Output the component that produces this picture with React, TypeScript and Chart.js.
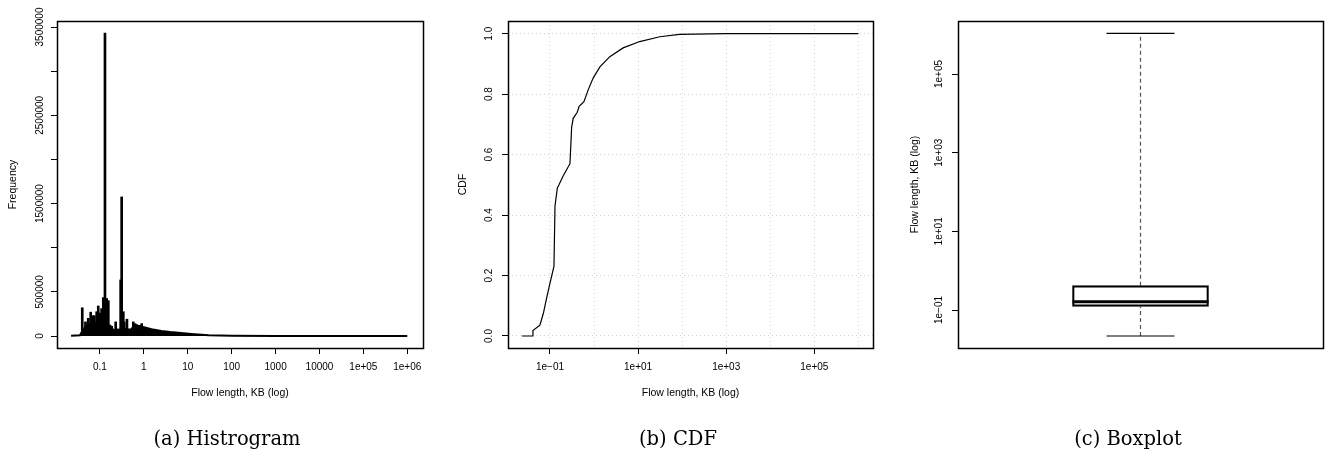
import React, { useEffect, useRef } from 'react';
import { Chart, registerables } from 'chart.js';

Chart.register(...registerables);

// ---------- (a) Histogram data ----------
const histSpikeKB = [0.0395, 0.0468, 0.054, 0.0614, 0.0682, 0.0742, 0.0841, 0.0914, 0.1, 0.109, 0.119, 0.13, 0.142, 0.155, 0.169, 0.185, 0.201, 0.228, 0.253, 0.296, 0.312, 0.34, 0.358, 0.412, 0.482, 0.574, 0.627, 0.685, 0.773, 0.891, 1.06];
const histSpikeFreq = [320000, 160000, 200000, 270000, 230000, 230000, 275000, 340000, 260000, 310000, 435000, 3430000, 425000, 400000, 125000, 110000, 80000, 160000, 80000, 635000, 1575000, 275000, 160000, 190000, 60000, 160000, 140000, 130000, 120000, 140000, 85000];
const histEnvKB = [0.022, 0.035, 0.04, 0.05, 0.06, 0.08, 0.1, 0.12, 0.16, 0.2, 0.25, 0.3, 0.4, 0.5, 0.6, 0.8, 1, 1.5, 2.5, 4, 7, 12, 30, 100, 1000, 10000, 1000000];
const histEnvFreq = [3000, 8000, 60000, 120000, 140000, 150000, 150000, 140000, 90000, 60000, 60000, 80000, 80000, 70000, 110000, 110000, 100000, 76000, 57000, 45000, 34000, 23000, 8000, 3000, 1000, 500, 200];
const histXTicks = [0.1, 1, 10, 100, 1000, 10000, 1e5, 1e6];
const histXLabels = ['0.1', '1', '10', '100', '1000', '10000', '1e+05', '1e+06'];
const histYTicks = [0, 500000, 1000000, 1500000, 2000000, 2500000, 3000000, 3500000];
const histYLabels = ['0', '500000', '', '1500000', '', '2500000', '', '3500000'];

// ---------- (b) CDF data ----------
const cdfKB = [0.023, 0.041, 0.041, 0.059, 0.071, 0.084, 0.1, 0.123, 0.13, 0.147, 0.16, 0.2, 0.284, 0.31, 0.337, 0.415, 0.46, 0.59, 0.74, 0.96, 1.36, 2.28, 4.57, 10.9, 31, 87, 1000, 1000000];
const cdfValue = [0, 0, 0.018, 0.036, 0.076, 0.126, 0.175, 0.23, 0.43, 0.49, 0.5, 0.53, 0.57, 0.69, 0.72, 0.74, 0.76, 0.775, 0.815, 0.854, 0.89, 0.924, 0.953, 0.974, 0.99, 0.998, 1.0, 1.0];
const cdfXTicks = [0.1, 1, 10, 100, 1000, 10000, 1e5, 1e6];
const cdfXLabels = ['1e\u221201', '', '1e+01', '', '1e+03', '', '1e+05', ''];
const cdfYTicks = [0, 0.2, 0.4, 0.6, 0.8, 1.0];
const cdfYLabels = ['0.0', '0.2', '0.4', '0.6', '0.8', '1.0'];

// ---------- (c) Boxplot data ----------
const boxMin = 0.0218;
const boxQ1 = 0.124;
const boxMedian = 0.163;
const boxQ3 = 0.415;
const boxMax = 1.08e6;
const boxYTicks = [0.1, 10, 1000, 1e5];
const boxYLabels = ['1e\u221201', '1e+01', '1e+03', '1e+05'];

const FONT = '"Liberation Sans", Arial, Helvetica, sans-serif';
Chart.defaults.font.family = FONT;
Chart.defaults.color = '#000';

const frame = {
  id: 'rframe',
  afterDatasetsDraw(chart: any) {
    const { ctx, chartArea } = chart;
    const { left, top, right, bottom } = chartArea;
    ctx.save();
    ctx.strokeStyle = '#000';
    ctx.lineWidth = 1.5;
    ctx.strokeRect(left + 0.5, top + 0.5, right - left, bottom - top);
    ctx.restore();
  },
};

function useChart(ref: any, make: () => any) {
  useEffect(() => {
    const chart = new Chart(ref.current, make());
    return () => chart.destroy();
  }, []);
}

const tickGrid = { display: true, drawOnChartArea: false, drawTicks: true, tickLength: 6, tickColor: '#000', tickWidth: 1, offset: false };

function Histogram() {
  const ref = useRef<HTMLCanvasElement>(null);
  useChart(ref, () => ({
    type: 'bar',
    data: {
      datasets: [
        {
          type: 'bar',
          data: histSpikeKB.map((x, i) => ({ x, y: histSpikeFreq[i] })),
          backgroundColor: '#000',
          borderWidth: 0,
          barThickness: 2,
        },
        {
          type: 'line',
          data: histEnvKB.map((x, i) => ({ x, y: histEnvFreq[i] })),
          borderColor: '#000',
          backgroundColor: '#000',
          borderWidth: 2,
          fill: 'origin',
          pointRadius: 0,
          tension: 0,
        },
      ],
    },
    options: {
      responsive: false,
      animation: false,
      layout: { autoPadding: false, padding: { top: 21, right: 22, left: 0, bottom: 0 } },
      plugins: { legend: { display: false }, tooltip: { enabled: false } },
      scales: {
        x: {
          type: 'logarithmic',
          min: 0.0105,
          max: 2.28e6,
          offset: false,
          afterBuildTicks: (s: any) => { s.ticks = histXTicks.map((v) => ({ value: v })); },
          afterFit: (s: any) => { s.height = 104; },
          grid: tickGrid,
          border: { display: false },
          ticks: { autoSkip: false, maxRotation: 0, minRotation: 0, padding: 7, color: '#000', font: { size: 10 }, callback: (_v: any, i: number) => histXLabels[i] },
          title: { display: true, text: 'Flow length, KB (log)', color: '#000', font: { size: 10.5 }, padding: { top: 0, bottom: 52.4 } },
        },
        y: {
          type: 'linear',
          min: -135900,
          max: 3568000,
          afterBuildTicks: (s: any) => { s.ticks = histYTicks.map((v) => ({ value: v })); },
          afterFit: (s: any) => { s.width = 57; },
          grid: tickGrid,
          border: { display: false },
          ticks: { autoSkip: false, minRotation: 90, maxRotation: 90, crossAlign: 'center', padding: -8.45, color: '#000', font: { size: 10 }, callback: (_v: any, i: number) => histYLabels[i] },
          title: { display: true, text: 'Frequency', color: '#000', font: { size: 10.5 }, padding: { top: 6.4, bottom: 0 } },
        },
      },
    },
    plugins: [frame],
  }));
  return <canvas ref={ref} width={445} height={452} style={{ position: 'absolute', left: 0, top: 0, width: 445, height: 452 }} />;
}

function CDF() {
  const ref = useRef<HTMLCanvasElement>(null);
  const dottedGrid = (tickFn: (i: number) => string) => ({
    display: true,
    drawOnChartArea: true,
    drawTicks: true,
    tickLength: 6,
    color: '#d3d3d3',
    borderDash: [1, 3],
    tickColor: (c: any) => tickFn(c.index),
    tickWidth: 1,
    tickBorderDash: [],
    offset: false,
  });
  useChart(ref, () => ({
    type: 'line',
    data: {
      datasets: [
        {
          data: cdfKB.map((x, i) => ({ x, y: cdfValue[i] })),
          borderColor: '#000',
          borderWidth: 1.2,
          pointRadius: 0,
          tension: 0,
          fill: false,
        },
      ],
    },
    options: {
      responsive: false,
      animation: false,
      layout: { autoPadding: false, padding: { top: 21, right: 17, left: 0, bottom: 0 } },
      plugins: { legend: { display: false }, tooltip: { enabled: false } },
      scales: {
        x: {
          type: 'logarithmic',
          min: 0.01114,
          max: 2.15e6,
          offset: false,
          afterBuildTicks: (s: any) => { s.ticks = cdfXTicks.map((v) => ({ value: v })); },
          afterFit: (s: any) => { s.height = 104; },
          grid: dottedGrid((i) => (cdfXLabels[i] ? '#000' : 'rgba(0,0,0,0)')),
          border: { display: false, dash: [1, 3] },
          ticks: { autoSkip: false, maxRotation: 0, minRotation: 0, padding: 7, color: '#000', font: { size: 10 }, callback: (_v: any, i: number) => cdfXLabels[i] },
          title: { display: true, text: 'Flow length, KB (log)', color: '#000', font: { size: 10.5 }, padding: { top: 0, bottom: 52.4 } },
        },
        y: {
          type: 'linear',
          min: -0.0397,
          max: 1.042,
          afterBuildTicks: (s: any) => { s.ticks = cdfYTicks.map((v) => ({ value: v })); },
          afterFit: (s: any) => { s.width = 63; },
          grid: dottedGrid(() => '#000'),
          border: { display: false, dash: [1, 3] },
          ticks: { autoSkip: false, minRotation: 90, maxRotation: 90, crossAlign: 'center', padding: 6.05, color: '#000', font: { size: 10 }, callback: (_v: any, i: number) => cdfYLabels[i] },
          title: { display: true, text: 'CDF', color: '#000', font: { size: 10.5 }, padding: { top: 12.2, bottom: 0 } },
        },
      },
    },
    plugins: [frame],
  }));
  return <canvas ref={ref} width={445} height={452} style={{ position: 'absolute', left: 445, top: 0, width: 445, height: 452 }} />;
}

function Boxplot() {
  const ref = useRef<HTMLCanvasElement>(null);
  useChart(ref, () => ({
    type: 'bar',
    data: {
      datasets: [
        {
          type: 'bar',
          data: [{ x: 0, y: [boxQ1, boxQ3] }],
          backgroundColor: 'rgba(255,255,255,0)',
          borderColor: '#000',
          borderWidth: 1.5,
          borderSkipped: false,
          barThickness: 136,
        },
        {
          type: 'line',
          data: [{ x: 0, y: boxMedian }],
          showLine: false,
          pointStyle: 'line',
          pointRadius: 68,
          pointBorderWidth: 3,
          pointBorderColor: '#000',
        },
        {
          type: 'line',
          data: [{ x: 0, y: boxMin }, { x: 0, y: boxMax }],
          showLine: false,
          pointStyle: 'line',
          pointRadius: 34,
          pointBorderWidth: 1.2,
          pointBorderColor: '#000',
        },
        {
          type: 'line',
          data: [{ x: 0, y: boxQ3 }, { x: 0, y: boxMax }],
          borderColor: '#555',
          borderWidth: 1.2,
          borderDash: [4, 3],
          pointRadius: 0,
        },
        {
          type: 'line',
          data: [{ x: 0, y: boxMin }, { x: 0, y: boxQ1 }],
          borderColor: '#555',
          borderWidth: 1.2,
          borderDash: [4, 3],
          pointRadius: 0,
        },
      ],
    },
    options: {
      responsive: false,
      animation: false,
      layout: { autoPadding: false, padding: { top: 21, right: 11, left: 0, bottom: 104 } },
      plugins: { legend: { display: false }, tooltip: { enabled: false } },
      scales: {
        x: { type: 'linear', min: -1, max: 1, display: false, offset: false },
        y: {
          type: 'logarithmic',
          min: 0.01081,
          max: 2.23e6,
          afterBuildTicks: (s: any) => { s.ticks = boxYTicks.map((v) => ({ value: v })); },
          afterFit: (s: any) => { s.width = 68; },
          grid: tickGrid,
          border: { display: false },
          ticks: { autoSkip: false, minRotation: 90, maxRotation: 90, crossAlign: 'center', padding: -1.05, color: '#000', font: { size: 10 }, callback: (_v: any, i: number) => boxYLabels[i] },
          title: { display: true, text: 'Flow length, KB (log)', color: '#000', font: { size: 10.5 }, padding: { top: 18.7, bottom: 0 } },
        },
      },
    },
    plugins: [frame],
  }));
  return <canvas ref={ref} width={444} height={452} style={{ position: 'absolute', left: 890, top: 0, width: 444, height: 452 }} />;
}

const captionStyle = (cx: number): React.CSSProperties => ({
  position: 'absolute',
  left: cx - 150,
  width: 300,
  top: 428,
  textAlign: 'center',
  fontFamily: '"DejaVu Serif", "Liberation Serif", serif',
  fontSize: 19.5,
  lineHeight: '22px',
  color: '#000',
  whiteSpace: 'nowrap',
});

export default function App() {
  return (
    <div style={{ position: 'fixed', left: 0, top: 0, width: 1334, height: 452, background: '#fff', overflow: 'hidden' }}>
      <Histogram />
      <CDF />
      <Boxplot />
      <div style={captionStyle(227)}>(a) Histrogram</div>
      <div style={captionStyle(678)}>(b) CDF</div>
      <div style={captionStyle(1128)}>(c) Boxplot</div>
    </div>
  );
}
